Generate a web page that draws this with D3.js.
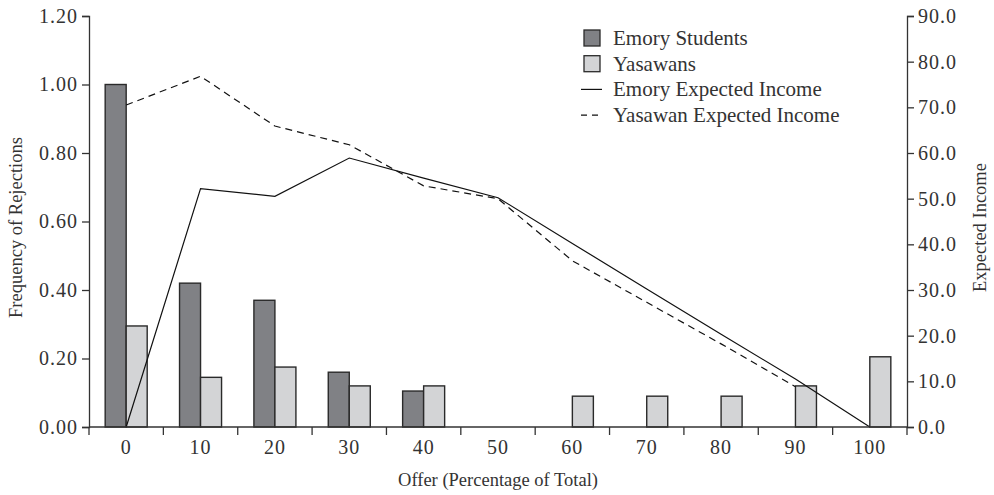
<!DOCTYPE html>
<html>
<head>
<meta charset="utf-8">
<script src="https://cdn.jsdelivr.net/npm/d3@7"></script>
<style>
  body { margin: 0; background: #fff; }
  text { font-family: "Liberation Serif", "DejaVu Serif", serif; fill: #333; }
</style>
</head>
<body>
<div id="chart"></div>
<script>
const offers = ["0", "10", "20", "30", "40", "50", "60", "70", "80", "90", "100"];
const emoryRejections = [1.00, 0.42, 0.37, 0.16, 0.105, 0, 0, 0, 0, 0, 0];
const yasawaRejections = [0.295, 0.145, 0.175, 0.12, 0.12, 0, 0.09, 0.09, 0.09, 0.12, 0.205];
const emoryIncome = [0, 52.2, 50.5, 58.9, 54.5, 50.2, 40.2, 30.2, 20.3, 10.5, 0];
const yasawaIncome = [70.5, 76.8, 65.9, 61.8, 52.8, 50.0, 36.4, 27.3, 18.2, 8.8];
const leftTicks = [0, 0.2, 0.4, 0.6, 0.8, 1.0, 1.2];
const rightTicks = [0, 10, 20, 30, 40, 50, 60, 70, 80, 90];

const width = 994, height = 495;
const margin = { top: 16, right: 87, bottom: 68, left: 89 };
const innerW = width - margin.left - margin.right;
const innerH = height - margin.top - margin.bottom;

const svg = d3.select("#chart").append("svg")
  .attr("width", width).attr("height", height);
const g = svg.append("g").attr("transform", `translate(${margin.left},${margin.top})`);

const x0 = d3.scaleBand().domain(offers).range([0, innerW]).padding(0);
const x1 = d3.scaleBand().domain(["emory", "yasawa"]).range([0, x0.bandwidth()])
  .paddingInner(0).paddingOuter(0.77);
const yL = d3.scaleLinear().domain([0, 1.2]).range([innerH, 0]);
const yR = d3.scaleLinear().domain([0, 90]).range([innerH, 0]);

const colors = { emory: "#808185", yasawa: "#d3d4d6" };

// bars
const barData = offers.map((o, i) => ({ offer: o, emory: emoryRejections[i], yasawa: yasawaRejections[i] }));
const groups = g.selectAll(".grp").data(barData).enter().append("g")
  .attr("transform", d => `translate(${x0(d.offer)},0)`);
["emory", "yasawa"].forEach(k => {
  groups.filter(d => d[k] > 0).append("rect")
    .attr("x", x1(k))
    .attr("y", d => yL(d[k]))
    .attr("width", x1.bandwidth())
    .attr("height", d => innerH - yL(d[k]))
    .attr("fill", colors[k])
    .attr("stroke", "#2a2a2a")
    .attr("stroke-width", 1.4);
});

// lines
const cx = o => x0(o) + x0.bandwidth() / 2;
const line = d3.line().x(d => cx(d.o)).y(d => yR(d.v));
g.append("path")
  .datum(emoryIncome.map((v, i) => ({ o: offers[i], v })))
  .attr("d", line).attr("fill", "none").attr("stroke", "#111").attr("stroke-width", 1.2);
g.append("path")
  .datum(yasawaIncome.map((v, i) => ({ o: offers[i], v })))
  .attr("d", line).attr("fill", "none").attr("stroke", "#111").attr("stroke-width", 1.2)
  .attr("stroke-dasharray", "7,5");

// axes
const axisStyle = sel => {
  sel.selectAll("path, line").attr("stroke", "#333").attr("stroke-width", 1.3);
  sel.selectAll("text").attr("font-size", 20).attr("fill", "#333")
    .style("letter-spacing", "1px")
    .style("font-family", '"Liberation Serif", serif');
};

g.append("g")
  .call(d3.axisLeft(yL).tickValues(leftTicks).tickFormat(d3.format(".2f")).tickSizeOuter(0).tickSize(7).tickPadding(4))
  .call(axisStyle);

g.append("g").attr("transform", `translate(${innerW},0)`)
  .call(d3.axisRight(yR).tickValues(rightTicks).tickFormat(d3.format(".1f")).tickSizeOuter(0).tickSize(7).tickPadding(4))
  .call(axisStyle);

const xAxis = g.append("g").attr("transform", `translate(0,${innerH})`)
  .call(d3.axisBottom(x0).tickSize(0).tickPadding(13))
  .call(axisStyle);
xAxis.select(".domain").remove();
xAxis.append("line").attr("x1", 0).attr("x2", innerW).attr("stroke", "#333").attr("stroke-width", 1.3);
xAxis.selectAll(".bound").data(offers.concat(["end"])).enter().append("line")
  .attr("x1", (d, i) => i * x0.step()).attr("x2", (d, i) => i * x0.step())
  .attr("y1", 0).attr("y2", 8).attr("stroke", "#333").attr("stroke-width", 1.3);

// titles
svg.append("text")
  .attr("x", margin.left + innerW / 2).attr("y", 486)
  .attr("text-anchor", "middle").attr("font-size", 18.5)
  .text("Offer (Percentage of Total)");
svg.append("text")
  .attr("transform", `translate(22,${margin.top + innerH / 2 + 6}) rotate(-90)`)
  .attr("text-anchor", "middle").attr("font-size", 18.5)
  .text("Frequency of Rejections");
svg.append("text")
  .attr("transform", `translate(986,${margin.top + innerH / 2 + 6}) rotate(-90)`)
  .attr("text-anchor", "middle").attr("font-size", 18.5)
  .text("Expected Income");

// legend
const legend = svg.append("g").attr("transform", "translate(584,38)");
const items = [
  { label: "Emory Students", type: "rect", fill: colors.emory },
  { label: "Yasawans", type: "rect", fill: colors.yasawa },
  { label: "Emory Expected Income", type: "line", dash: null },
  { label: "Yasawan Expected Income", type: "line", dash: "6,5" }
];
items.forEach((it, i) => {
  const row = legend.append("g").attr("transform", `translate(0,${i * 25.7})`);
  if (it.type === "rect") {
    row.append("rect").attr("x", 0).attr("y", -8).attr("width", 16).attr("height", 16)
      .attr("fill", it.fill).attr("stroke", "#2a2a2a").attr("stroke-width", 1.3);
  } else {
    row.append("line").attr("x1", -3).attr("x2", 18).attr("y1", 0).attr("y2", 0)
      .attr("stroke", "#111").attr("stroke-width", 1.2)
      .attr("stroke-dasharray", it.dash);
  }
  row.append("text").attr("x", 29).attr("y", 7).attr("font-size", 21).text(it.label);
});
</script>
</body>
</html>
